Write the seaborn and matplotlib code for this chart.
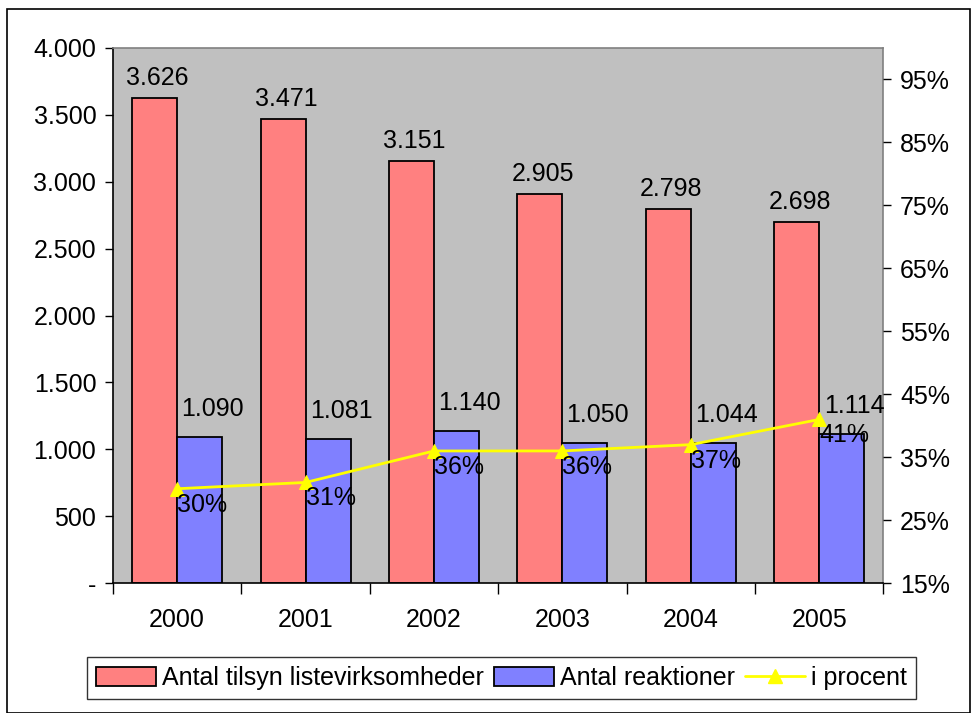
import pandas as pd
import matplotlib.pyplot as plt
import seaborn as sns
from matplotlib.ticker import FuncFormatter, FixedLocator
from matplotlib.patches import Rectangle

# data
years = ["2000", "2001", "2002", "2003", "2004", "2005"]
tilsyn = [3626, 3471, 3151, 2905, 2798, 2698]
reaktioner = [1090, 1081, 1140, 1050, 1044, 1114]
procent = [0.30, 0.31, 0.36, 0.36, 0.37, 0.41]

serie_tilsyn = "Antal tilsyn listevirksomheder"
serie_reakt = "Antal reaktioner"
serie_pct = "i procent"

df = pd.DataFrame({
    "aar": years * 2,
    "antal": tilsyn + reaktioner,
    "serie": [serie_tilsyn] * len(years) + [serie_reakt] * len(years),
})

sns.set_theme(style="white")
plt.rcParams['font.family'] = ['Liberation Sans', 'DejaVu Sans']
plt.rcParams['text.color'] = 'black'
plt.rcParams['xtick.color'] = 'black'
plt.rcParams['ytick.color'] = 'black'
plt.rcParams['xtick.labelcolor'] = 'black'
plt.rcParams['ytick.labelcolor'] = 'black'
fs = 18

fig = plt.figure(figsize=(9.74, 7.13), dpi=100)
ax = fig.add_axes([0.116, 0.182, 0.791, 0.751])
ax.set_facecolor("#C0C0C0")

sns.barplot(data=df, x="aar", y="antal", hue="serie",
            palette=["#FF8080", "#8080FF"], edgecolor="black", linewidth=1.3,
            width=0.7, saturation=1, ax=ax)

ax.set_ylim(0, 4000)
ax.set_xlim(-0.5, 5.5)
ax.set_yticks(range(0, 4001, 500))
ax.yaxis.set_major_formatter(FuncFormatter(
    lambda v, p: "-" if v == 0 else f"{int(v):,}".replace(",", ".")))
ax.set_xticks(range(6))
ax.set_xticklabels(years)
ax.xaxis.set_minor_locator(FixedLocator([i - 0.5 for i in range(7)]))
ax.tick_params(axis="x", which="major", length=0, labelsize=fs, pad=18)
ax.tick_params(axis="x", which="minor", length=8, width=1, color="black", direction="out", bottom=True)
ax.tick_params(axis="y", length=6, width=1, color="black", direction="out", labelsize=fs, left=True, pad=6)
ax.set_xlabel("")
ax.set_ylabel("")
ax.legend_.remove()

for s in ["left", "bottom"]:
    ax.spines[s].set_color("black")
    ax.spines[s].set_linewidth(1.2)
for s in ["top", "right"]:
    ax.spines[s].set_color("#808080")
    ax.spines[s].set_linewidth(1.2)

# value labels
for i, v in enumerate(tilsyn):
    ax.annotate(f"{v:,}".replace(",", "."), (i - 0.175, v), xytext=(3, 8),
                textcoords="offset pixels", ha="center", va="bottom", fontsize=fs)
for i, v in enumerate(reaktioner):
    ax.annotate(f"{v:,}".replace(",", "."), (i + 0.175, v), xytext=(13, 16),
                textcoords="offset pixels", ha="center", va="bottom", fontsize=fs)

# percent line on the secondary axis
ax2 = ax.twinx()
sns.lineplot(x=list(range(6)), y=procent, color="#FFFF00", linewidth=2,
             marker="^", markersize=10, markeredgecolor="#FFFF00", ax=ax2)
ax2.set_ylim(0.15, 1.0)
ax2.set_yticks([0.15, 0.25, 0.35, 0.45, 0.55, 0.65, 0.75, 0.85, 0.95])
ax2.yaxis.set_major_formatter(FuncFormatter(lambda v, p: f"{round(v * 100)}%"))
ax2.tick_params(axis="y", length=6, width=1, color="black", direction="out", labelsize=fs, right=True, pad=6)
for s in ax2.spines.values():
    s.set_visible(False)
ax2.grid(False)
ax.grid(False)

for i, p in enumerate(procent):
    ax2.annotate(f"{round(p * 100)}%", (i, p), xytext=(0, -4),
                 textcoords="offset pixels", ha="left", va="top", fontsize=fs)

# legend
h_bar = [Rectangle((0, 0), 1, 1, facecolor=c, edgecolor="black", linewidth=1.3)
         for c in ["#FF8080", "#8080FF"]]
h_line = plt.Line2D([], [], color="#FFFF00", linewidth=2, marker="^",
                    markersize=10, markeredgecolor="#FFFF00")
leg = fig.legend(h_bar + [h_line], [serie_tilsyn, serie_reakt, serie_pct],
                 loc="center", bbox_to_anchor=(0.515, 0.049), ncol=3, fontsize=fs,
                 frameon=True, fancybox=False, edgecolor="black",
                 handlelength=2.4, handleheight=0.8, handletextpad=0.25,
                 columnspacing=0.4, borderpad=0.35)
leg.get_frame().set_linewidth(1.0)

# outer frame
fig.patches.append(Rectangle((0.007, 0.0), 0.989, 0.988, transform=fig.transFigure,
                             fill=False, edgecolor="black", linewidth=1.2))

fig.savefig("out.png", dpi=100)
